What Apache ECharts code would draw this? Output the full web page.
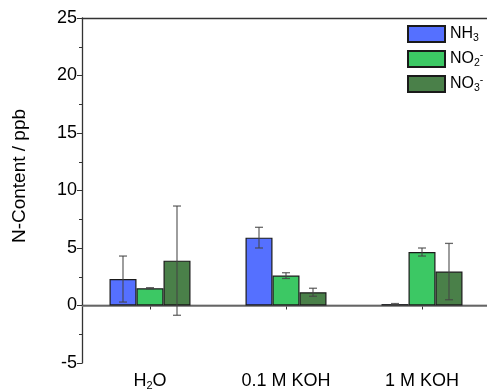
<!DOCTYPE html>
<html><head><meta charset="utf-8">
<script src="https://cdn.jsdelivr.net/npm/echarts@6/dist/echarts.min.js"></script>
<style>html,body{margin:0;padding:0;background:#fff}#c{width:487px;height:389px}</style>
</head><body><div id="c"></div>
<script>
const categories = ['H2O', '0.1 M KOH', '1 M KOH'];
const seriesNames = ['NH3', 'NO2-', 'NO3-'];
const nh3 = [2.3, 5.9, 0.12];
const nh3Err = [2.0, 0.9, 0.05];
const no2 = [1.5, 2.6, 4.65];
const no2Err = [0.05, 0.25, 0.35];
const no3 = [3.9, 1.15, 2.95];
const no3Err = [4.75, 0.35, 2.45];
const yTicks = [-5, 0, 5, 10, 15, 20, 25];
const yName = 'N-Content / ppb';

const colors = ['#5570ff', '#3cc864', '#4a8049'];
const values = [nh3, no2, no3];
const errs = [nh3Err, no2Err, no3Err];
const BW = 27;
const offsets = [-BW, 0, BW];
const font = 'Arial, "Liberation Sans", sans-serif';

const legendFmt = {
  'NH3': '{a|NH}{s|3}',
  'NO2-': '{a|NO}{s|2}{p|-}',
  'NO3-': '{a|NO}{s|3}{p|-}'
};
const catFmt = {
  'H2O': '{a|H}{s|2}{a|O}',
  '0.1 M KOH': '{a|0.1 M KOH}',
  '1 M KOH': '{a|1 M KOH}'
};

const chart = echarts.init(document.getElementById('c'));
const series = [];
seriesNames.forEach((n, i) => {
  const s = {
    name: n, type: 'bar', data: values[i], barWidth: BW, barGap: '0%',
    itemStyle: {color: colors[i], borderColor: '#1a1a1a', borderWidth: 1.2},
    z: 2
  };
  if (i === 0) {
    s.markLine = {silent: true, symbol: 'none', label: {show: false},
      lineStyle: {color: '#777', type: 'solid', width: 1.5},
      data: [{yAxis: 0}], z: 1};
  }
  series.push(s);
});
seriesNames.forEach((n, i) => {
  series.push({
    type: 'custom', name: n + '_err', z: 5, silent: true,
    data: values[i].map((v, j) => [j, v, errs[i][j]]),
    renderItem: function (params, api) {
      const x = api.value(0), v = api.value(1), e = api.value(2);
      const hi = api.coord([x, v + e]), lo = api.coord([x, v - e]);
      const cx = hi[0] + offsets[i];
      const hw = 4;
      const st = {stroke: '#444', lineWidth: 1.3, opacity: 0.8};
      return {type: 'group', children: [
        {type: 'line', shape: {x1: cx, y1: hi[1], x2: cx, y2: lo[1]}, style: st},
        {type: 'line', shape: {x1: cx - hw, y1: hi[1], x2: cx + hw, y2: hi[1]}, style: st},
        {type: 'line', shape: {x1: cx - hw, y1: lo[1], x2: cx + hw, y2: lo[1]}, style: st}
      ]};
    }
  });
});

const richBase = {
  a: {fontSize: 18, fontFamily: font, color: '#000', lineHeight: 20},
  s: {fontSize: 11, fontFamily: font, color: '#000', lineHeight: 10, verticalAlign: 'bottom'},
  p: {fontSize: 11, fontFamily: font, color: '#000', lineHeight: 10, verticalAlign: 'top'}
};
const richLeg = {
  a: {fontSize: 16, fontFamily: font, color: '#000', lineHeight: 19},
  s: {fontSize: 10.5, fontFamily: font, color: '#000', lineHeight: 10, verticalAlign: 'bottom'},
  p: {fontSize: 10.5, fontFamily: font, color: '#000', lineHeight: 10, verticalAlign: 'top'}
};

chart.setOption({
  animation: false,
  backgroundColor: '#fff',
  grid: {left: 82, right: -3, top: 18, bottom: 26, containLabel: false, outerBoundsMode: 'none'},
  graphic: [{
    type: 'text', x: 20, y: 176, rotation: Math.PI / 2,
    style: {text: yName, fontSize: 19, fontFamily: font, fill: '#000',
      align: 'center', verticalAlign: 'middle'}
  }],
  legend: {
    data: seriesNames, orient: 'vertical', left: 407, top: 25, padding: 0,
    itemWidth: 37, itemHeight: 16, itemGap: 6, icon: 'rect',
    formatter: n => legendFmt[n],
    textStyle: {fontSize: 16, rich: richLeg}
  },
  xAxis: [{
    type: 'category', data: categories, position: 'bottom',
    axisLine: {lineStyle: {color: '#333', width: 1.3}},
    axisTick: {show: true, alignWithLabel: true, length: 4, lineStyle: {color: '#333'}},
    axisLabel: {margin: 8, formatter: v => catFmt[v], rich: richBase, color: '#000'}
  }, {
    type: 'category', data: categories, position: 'top',
    axisLine: {show: true, lineStyle: {color: '#333', width: 1.3}},
    axisTick: {show: false}, axisLabel: {show: false}
  }],
  yAxis: {
    type: 'value', min: -5, max: 25, interval: 5,
    axisLine: {show: true, lineStyle: {color: '#333', width: 1.3}},
    axisTick: {show: true, length: 5, lineStyle: {color: '#333'}},
    minorTick: {show: true, splitNumber: 2, length: 3, lineStyle: {color: '#333'}},
    splitLine: {show: false},
    axisLabel: {fontSize: 18, fontFamily: font, color: '#000', margin: 5,
      formatter: v => yTicks.includes(v) ? String(v) : ''}
  },
  series: series
});
</script></body></html>
